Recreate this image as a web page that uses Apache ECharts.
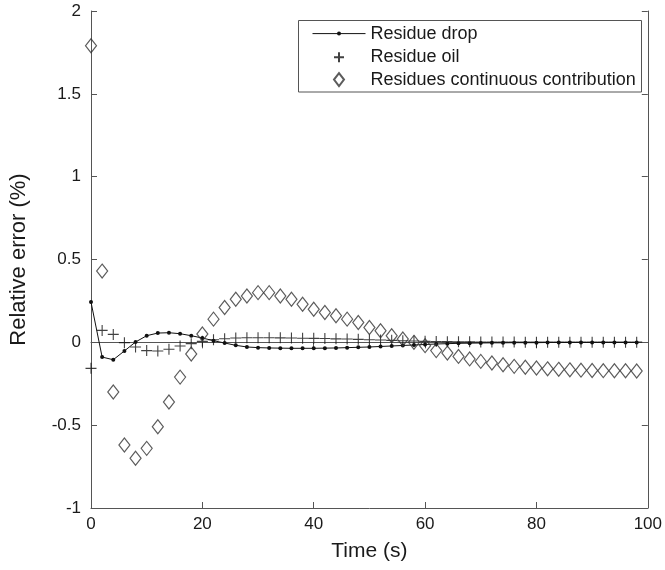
<!DOCTYPE html>
<html><head><meta charset="utf-8">
<script src="https://cdn.jsdelivr.net/npm/echarts@6/dist/echarts.min.js"></script>
<style>html,body{margin:0;padding:0;background:#fff}#c{width:665px;height:570px}</style>
</head><body><div id="c"></div>
<script>
var times = [0,2,4,6,8,10,12,14,16,18,20,22,24,26,28,30,32,34,36,38,40,42,44,46,48,50,52,54,56,58,60,62,64,66,68,70,72,74,76,78,80,82,84,86,88,90,92,94,96,98];
var residueDrop = [0.243,-0.089,-0.105,-0.052,0.002,0.040,0.056,0.058,0.052,0.040,0.026,0.010,-0.004,-0.018,-0.028,-0.032,-0.034,-0.035,-0.036,-0.036,-0.036,-0.035,-0.034,-0.032,-0.030,-0.028,-0.025,-0.022,-0.019,-0.016,-0.013,-0.010,-0.008,-0.006,-0.005,-0.004,-0.003,-0.003,-0.002,-0.002,-0.002,-0.001,-0.001,-0.001,-0.001,-0.001,-0.001,-0.001,-0.001,-0.001];
var residueOil = [-0.157,0.072,0.048,-0.002,-0.028,-0.050,-0.052,-0.042,-0.022,-0.008,0.006,0.016,0.022,0.026,0.028,0.028,0.028,0.027,0.026,0.025,0.024,0.023,0.021,0.020,0.018,0.016,0.014,0.012,0.010,0.008,0.006,0.005,0.004,0.003,0.003,0.002,0.002,0.002,0.002,0.001,0.001,0.001,0.001,0.001,0.001,0.001,0.001,0.001,0.001,0.001];
var residuesContinuous = [1.79,0.43,-0.30,-0.62,-0.70,-0.64,-0.51,-0.36,-0.21,-0.07,0.05,0.14,0.21,0.26,0.28,0.30,0.30,0.28,0.26,0.23,0.20,0.18,0.16,0.14,0.12,0.09,0.07,0.04,0.02,0.00,-0.02,-0.05,-0.065,-0.085,-0.10,-0.115,-0.125,-0.135,-0.145,-0.15,-0.155,-0.16,-0.163,-0.166,-0.168,-0.17,-0.171,-0.172,-0.172,-0.173];
var seriesNames = ['Residue drop','Residue oil','Residues continuous contribution'];
var xTicks = [0,20,40,60,80,100];
var yTicks = [-1,-0.5,0,0.5,1,1.5,2];

function pairs(v){ return times.map(function(t,i){ return [t, v[i]]; }); }
var FONT = 'Liberation Sans, Arial, sans-serif';
var axisCol = '#555';
var textCol = '#1a1a1a';
var plusPath = 'path://M5,0L5,10M0,5L10,5';
var diamondPath = 'path://M5,0L10,6.5L5,13L0,6.5Z';

function legendFor(name, left, top, ih){
  return {
    orient:'vertical', left:left, top:top, padding:0, z:20,
    itemWidth:53, itemHeight:ih,
    lineStyle:{width:1},
    textStyle:{fontFamily:FONT, fontSize:18, color:textCol, lineHeight:20},
    data:[name]
  };
}

var chart = echarts.init(document.getElementById('c'), null, {renderer:'canvas'});
chart.setOption({
  animation:false,
  backgroundColor:'#fff',
  grid:{left:90, right:15, top:11, bottom:62},
  graphic:[{
    type:'rect', z:15,
    shape:{x:298.5, y:20.5, width:343, height:71.5},
    style:{fill:'#fff', stroke:'#555', lineWidth:1}
  }],
  legend:[
    legendFor(seriesNames[0], 312, 23.6, 5),
    legendFor(seriesNames[1], 333, 47.2, 10),
    legendFor(seriesNames[2], 333, 69.6, 13)
  ],
  xAxis:[{
    type:'value', min:0, max:100, interval:20,
    axisLine:{onZero:false, lineStyle:{color:axisCol, width:1}},
    axisTick:{inside:true, length:6, lineStyle:{color:axisCol}},
    axisLabel:{fontFamily:FONT, fontSize:17, color:textCol, margin:8},
    splitLine:{show:false},
    name:'Time (s)', nameLocation:'middle', nameGap:33,
    nameTextStyle:{fontFamily:FONT, fontSize:21, color:textCol}
  },{
    type:'value', position:'top', min:0, max:100, interval:20,
    axisLine:{show:true, lineStyle:{color:axisCol}},
    axisTick:{inside:true, length:6, lineStyle:{color:axisCol}},
    axisLabel:{show:false}, splitLine:{show:false}
  }],
  yAxis:[{
    type:'value', min:-1, max:2, interval:0.5,
    axisLine:{show:true, onZero:false, lineStyle:{color:axisCol}},
    axisTick:{show:true, inside:true, length:6, lineStyle:{color:axisCol}},
    axisLabel:{fontFamily:FONT, fontSize:17, color:textCol, margin:10,
      formatter:function(v){ return String(v); }},
    splitLine:{show:false},
    name:'Relative error (%)', nameLocation:'middle', nameGap:61, nameRotate:90,
    nameTextStyle:{fontFamily:FONT, fontSize:22, color:textCol}
  },{
    type:'value', position:'right', min:-1, max:2, interval:0.5,
    axisLine:{show:true, onZero:false, lineStyle:{color:axisCol}},
    axisTick:{show:true, inside:true, length:6, lineStyle:{color:axisCol}},
    axisLabel:{show:false}, splitLine:{show:false}
  }],
  series:[{
    name:seriesNames[0], type:'line', data:pairs(residueDrop),
    symbol:'circle', symbolSize:4, showSymbol:true,
    lineStyle:{color:'#111', width:1}, itemStyle:{color:'#111'}, z:3
  },{
    name:seriesNames[1], type:'scatter', data:pairs(residueOil),
    symbol:plusPath, symbolSize:11,
    itemStyle:{color:'rgba(0,0,0,0)', borderColor:'#111', borderWidth:1.1}, z:4
  },{
    name:seriesNames[2], type:'scatter', data:pairs(residuesContinuous),
    symbol:diamondPath, symbolSize:[11,14],
    itemStyle:{color:'rgba(255,255,255,0)', borderColor:'#333', borderWidth:1.2}, z:5
  }]
});
</script></body></html>
